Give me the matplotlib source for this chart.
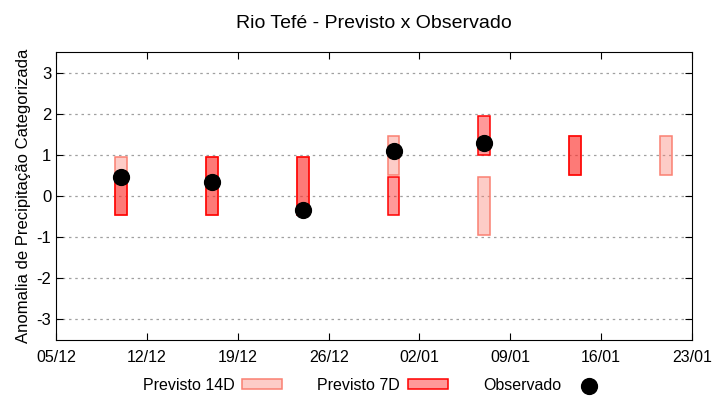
import pandas as pd
import matplotlib
matplotlib.use("Agg")
import matplotlib.pyplot as plt
import matplotlib.dates as mdates

plt.rcParams['font.family'] = ['Liberation Sans', 'DejaVu Sans']
plt.rcParams['axes.unicode_minus'] = False

# Data
datas = ["2023-12-10", "2023-12-17", "2023-12-24", "2023-12-31",
         "2024-01-07", "2024-01-14", "2024-01-21"]
p14_min = [-0.45, -0.45, -0.45, 0.5, -0.95, 0.5, 0.5]
p14_max = [0.95, 0.95, 0.95, 1.45, 0.45, 1.45, 1.45]
p7_min = [-0.45, -0.45, -0.45, -0.45, 1.0, 0.5, None]
p7_max = [0.45, 0.95, 0.95, 0.45, 1.95, 1.45, None]
obs = [0.45, 0.35, -0.35, 1.1, 1.28, None, None]

xticks = pd.date_range("2023-12-05", "2024-01-23", freq="7D")

df = pd.DataFrame({"data": pd.to_datetime(datas), "p14_min": p14_min, "p14_max": p14_max,
                   "p7_min": p7_min, "p7_max": p7_max, "obs": obs})

fig = plt.figure(figsize=(7.2, 4.0), dpi=100)
ax = fig.add_axes([0.078, 0.15, 0.883, 0.72])

w = 0.9
x = mdates.date2num(df["data"])

# Previsto 14D
b14 = ax.bar(x, df["p14_max"] - df["p14_min"], bottom=df["p14_min"], width=w,
             color=(0.98, 0.5, 0.45, 0.4), edgecolor="salmon", linewidth=1.1,
             label="Previsto 14D", zorder=2)

# Previsto 7D
d7 = df.dropna(subset=["p7_min"])
b7 = ax.bar(mdates.date2num(d7["data"]), d7["p7_max"] - d7["p7_min"], bottom=d7["p7_min"],
            width=w, color=(1, 0, 0, 0.4), edgecolor="red", linewidth=1.1,
            label="Previsto 7D", zorder=3)

# Observado
dob = df.dropna(subset=["obs"])
sc = ax.scatter(mdates.date2num(dob["data"]), dob["obs"], s=130, color="black",
                label="Observado", zorder=4)

ax.set_xlim(mdates.date2num(xticks[0]), mdates.date2num(xticks[-1]))
ax.set_ylim(-3.5, 3.5)
ax.set_xticks(mdates.date2num(xticks))
ax.xaxis.set_major_formatter(mdates.DateFormatter("%d/%m"))
ax.set_yticks(range(-3, 4))
ax.tick_params(direction="in", top=True, right=True, length=5, labelsize=12)
ax.tick_params(axis="x", pad=7, labelsize=11.5)
ax.grid(axis="y", color="#a0a0a0", linestyle=(0, (2, 3)), linewidth=0.9)
ax.set_axisbelow(True)

ax.set_title("Rio Tefé - Previsto x Observado", fontsize=14, pad=17)
ax.set_ylabel("Anomalia de Precipitação Categorizada", fontsize=12, labelpad=4)

leg = fig.legend([b14, b7, sc], ["Previsto 14D", "Previsto 7D", "Observado"],
                 loc="center left", bbox_to_anchor=(0.187, 0.037), ncol=3,
                 frameon=False, markerfirst=False, fontsize=11.5, columnspacing=2.2,
                 handlelength=2.5, handleheight=0.55, handletextpad=0.5,
                 borderpad=0, scatterpoints=1, markerscale=1.0)

plt.savefig("out.png", dpi=100)
